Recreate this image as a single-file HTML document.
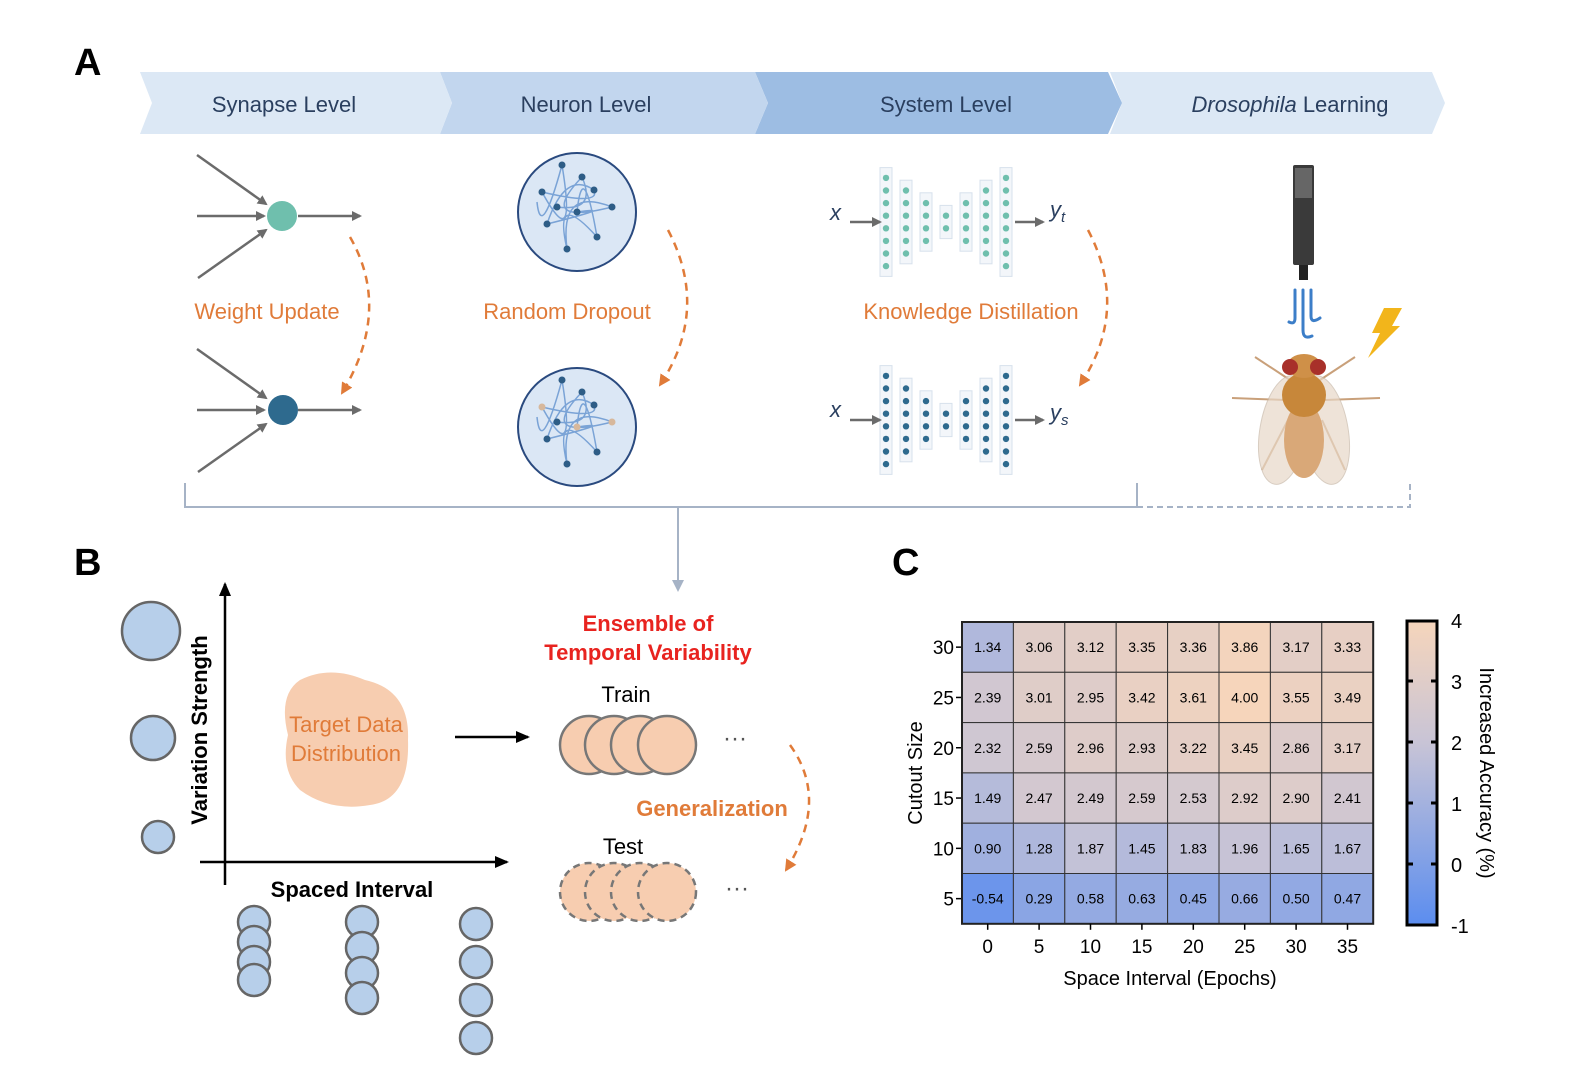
<!DOCTYPE html>
<html><head><meta charset="utf-8"><style>
html,body{margin:0;padding:0;background:#fff}
svg{display:block}
text{font-family:"Liberation Sans",Arial,sans-serif}
</style></head><body>
<svg id="s" width="1574" height="1090" viewBox="0 0 1574 1090" xmlns="http://www.w3.org/2000/svg">
<defs>
<marker id="ag" markerWidth="10" markerHeight="10" refX="8" refY="5" orient="auto" markerUnits="userSpaceOnUse"><path d="M0,0 L10,5 L0,10 Z" fill="#6b6b6b"/></marker>
<marker id="ak" markerWidth="14" markerHeight="12" refX="12" refY="6" orient="auto" markerUnits="userSpaceOnUse"><path d="M0,0 L14,6 L0,12 Z" fill="#000"/></marker>
<marker id="ao" markerWidth="14" markerHeight="12" refX="10" refY="6" orient="auto" markerUnits="userSpaceOnUse"><path d="M0,0 L12,6 L0,12 Z" fill="#e07b39"/></marker>
<marker id="ab" markerWidth="14" markerHeight="12" refX="10" refY="6" orient="auto" markerUnits="userSpaceOnUse"><path d="M0,0 L12,6 L0,12 Z" fill="#a6b3c6"/></marker>
<linearGradient id="cb" x1="0" y1="1" x2="0" y2="0">
<stop offset="0" stop-color="#5b8def"/><stop offset="0.6" stop-color="#c8c4d6"/><stop offset="1" stop-color="#f6d5bb"/></linearGradient>
</defs>
<text x="74" y="75" font-size="38" font-weight="bold">A</text>
<!-- banner -->
<polygon points="1110,72 1432,72 1445,103 1432,134 1110,134 1122,103" fill="#dce8f5"/>
<polygon points="755,72 1108,72 1122,103 1108,134 755,134 768,103" fill="#9dbde3"/>
<polygon points="440,72 755,72 768,103 755,134 440,134 452,103" fill="#c2d6ee"/>
<polygon points="140,72 440,72 452,103 440,134 140,134 152,103" fill="#dce8f5"/>
<g font-size="22" fill="#2a3f5f" text-anchor="middle">
<text x="284" y="112">Synapse Level</text>
<text x="586" y="112">Neuron Level</text>
<text x="946" y="112">System Level</text>
<text x="1290" y="112"><tspan font-style="italic">Drosophila</tspan> Learning</text>
</g>
<!-- synapse -->
<g stroke="#6b6b6b" stroke-width="2.5" fill="none" marker-end="url(#ag)">
<line x1="197" y1="155" x2="266" y2="204"/><line x1="197" y1="216" x2="264" y2="216"/><line x1="198" y1="278" x2="266" y2="230"/><line x1="298" y1="216" x2="360" y2="216"/>
<line x1="197" y1="349" x2="266" y2="398"/><line x1="197" y1="410" x2="264" y2="410"/><line x1="198" y1="472" x2="266" y2="424"/><line x1="298" y1="410" x2="360" y2="410"/>
</g>
<circle cx="282" cy="216" r="15" fill="#6fbfad"/>
<circle cx="283" cy="410" r="15" fill="#2e6a8e"/>
<g stroke="#e07b39" stroke-width="2.5" fill="none" stroke-dasharray="8,6" marker-end="url(#ao)">
<path d="M350,237 Q392,310 342,393"/>
<path d="M668,230 Q710,310 660,385"/>
<path d="M1088,230 Q1130,310 1080,385"/>
<path d="M790,745 Q830,800 786,870"/>
</g>
<g font-size="22" fill="#e07b39" text-anchor="middle">
<text x="267" y="319">Weight Update</text>
<text x="567" y="319">Random Dropout</text>
<text x="971" y="319">Knowledge Distillation</text>
</g>
<!-- neuron circles -->
<g id="neur"></g>
<!-- networks -->
<g id="nets"></g>
<g font-family="Liberation Serif" font-style="italic" font-size="22" fill="#2a3f5f">
<text x="830" y="220">x</text><text x="830" y="417">x</text>
<text x="1050" y="217">y<tspan font-size="15" dy="5">t</tspan></text>
<text x="1050" y="420">y<tspan font-size="15" dy="5">s</tspan></text>
</g>
<g stroke="#6b6b6b" stroke-width="2.5" marker-end="url(#ag)">
<line x1="850" y1="222" x2="880" y2="222"/><line x1="1015" y1="222" x2="1043" y2="222"/>
<line x1="850" y1="420" x2="880" y2="420"/><line x1="1015" y1="420" x2="1043" y2="420"/>
</g>
<!-- fly -->
<rect x="1293" y="165" width="21" height="100" rx="2" fill="#3a3a3a"/>
<rect x="1295" y="168" width="17" height="30" fill="#666"/>
<rect x="1299" y="265" width="9" height="15" fill="#222"/>
<g stroke="#3c7ec8" stroke-width="3" fill="none" stroke-linecap="round">
<path d="M1295,290 V318 Q1295,325 1289,322"/><path d="M1303,290 V330 Q1303,340 1312,336"/><path d="M1311,290 V316 Q1311,324 1320,318"/>
</g>
<polygon points="1392,308 1402,308 1392,326 1400,326 1368,358 1380,333 1372,333 1384,308" fill="#f2b51b"/>
<g stroke="#c9a07a" stroke-width="2" fill="none">
<path d="M1290,380 L1255,357"/><path d="M1320,380 L1355,357"/><path d="M1285,400 L1232,398"/><path d="M1325,400 L1380,398"/>
<path d="M1288,420 L1262,470"/><path d="M1322,420 L1345,470"/>
</g>
<ellipse cx="1284" cy="430" rx="24" ry="55" fill="#e8d8c8" opacity="0.7" stroke="#c8b8a8" transform="rotate(10 1284 430)"/>
<ellipse cx="1324" cy="430" rx="24" ry="55" fill="#e8d8c8" opacity="0.7" stroke="#c8b8a8" transform="rotate(-10 1324 430)"/>
<ellipse cx="1304" cy="440" rx="20" ry="38" fill="#d9a878"/>
<ellipse cx="1304" cy="395" rx="22" ry="22" fill="#c7873a"/>
<ellipse cx="1304" cy="366" rx="17" ry="12" fill="#cf9048"/>
<circle cx="1290" cy="367" r="8" fill="#a8302a"/><circle cx="1318" cy="367" r="8" fill="#a8302a"/>
<!-- bracket -->
<path d="M185,483 V507 H1137 V483" stroke="#a6b3c6" stroke-width="2" fill="none"/>
<path d="M1137,507 H1410 V483" stroke="#a6b3c6" stroke-width="2" fill="none" stroke-dasharray="6,4"/>
<line x1="678" y1="507" x2="678" y2="590" stroke="#a6b3c6" stroke-width="2" marker-end="url(#ab)"/>
<!-- B -->
<text x="74" y="575" font-size="38" font-weight="bold">B</text>
<g stroke="#000" stroke-width="2.5" marker-end="url(#ak)">
<line x1="225" y1="885" x2="225" y2="584"/><line x1="200" y1="862" x2="507" y2="862"/>
<line x1="455" y1="737" x2="528" y2="737"/>
</g>
<text transform="translate(207,730) rotate(-90)" font-size="22" font-weight="bold" text-anchor="middle">Variation Strength</text>
<text x="352" y="897" font-size="22" font-weight="bold" text-anchor="middle">Spaced Interval</text>
<g fill="#b7cfea" stroke="#666" stroke-width="2.5">
<circle cx="151" cy="631" r="29"/><circle cx="153" cy="738" r="22"/><circle cx="158" cy="837" r="16"/>
<circle cx="254" cy="922" r="16"/><circle cx="254" cy="942" r="16"/><circle cx="254" cy="962" r="16"/><circle cx="254" cy="980" r="16"/>
<circle cx="362" cy="922" r="16"/><circle cx="362" cy="948" r="16"/><circle cx="362" cy="973" r="16"/><circle cx="362" cy="998" r="16"/>
<circle cx="476" cy="924" r="16"/><circle cx="476" cy="962" r="16"/><circle cx="476" cy="1000" r="16"/><circle cx="476" cy="1038" r="16"/>
</g>
<path d="M300,680 Q330,665 365,680 Q410,690 408,740 Q410,800 370,805 Q330,812 300,790 Q280,770 288,735 Q278,695 300,680 Z" fill="#f7cdb0"/>
<g font-size="22" fill="#e07b39" text-anchor="middle"><text x="346" y="732">Target Data</text><text x="346" y="761">Distribution</text></g>
<g font-size="22" fill="#e8231f" font-weight="bold" text-anchor="middle"><text x="648" y="631">Ensemble of</text><text x="648" y="660">Temporal Variability</text></g>
<text x="626" y="702" font-size="22" text-anchor="middle">Train</text>
<text x="623" y="854" font-size="22" text-anchor="middle">Test</text>
<g fill="#f7cdb0" stroke="#777" stroke-width="2.5">
<circle cx="589" cy="745" r="29"/><circle cx="614" cy="745" r="29"/><circle cx="640" cy="745" r="29"/><circle cx="667" cy="745" r="29"/>
</g>
<g fill="#f7cdb0" stroke="#777" stroke-width="2.5" stroke-dasharray="7,5">
<circle cx="589" cy="892" r="29"/><circle cx="614" cy="892" r="29"/><circle cx="640" cy="892" r="29"/><circle cx="667" cy="892" r="29"/>
</g>
<g font-size="24" fill="#555" text-anchor="middle"><text x="735" y="746">···</text><text x="737" y="896">···</text></g>
<text x="712" y="816" font-size="22" fill="#e07b39" font-weight="bold" text-anchor="middle">Generalization</text>
<!-- C -->
<text x="892" y="575" font-size="38" font-weight="bold">C</text>
<g id="hm"></g>
<rect x="1407" y="621" width="30" height="304" fill="url(#cb)" stroke="#000" stroke-width="3"/>
<g stroke="#000" stroke-width="3">
<line x1="1407" y1="681" x2="1413" y2="681"/><line x1="1431" y1="681" x2="1437" y2="681"/>
<line x1="1407" y1="742" x2="1413" y2="742"/><line x1="1431" y1="742" x2="1437" y2="742"/>
<line x1="1407" y1="803" x2="1413" y2="803"/><line x1="1431" y1="803" x2="1437" y2="803"/>
<line x1="1407" y1="864" x2="1413" y2="864"/><line x1="1431" y1="864" x2="1437" y2="864"/>
</g>
<g font-size="20"><text x="1451" y="628">4</text><text x="1451" y="689">3</text><text x="1451" y="750">2</text><text x="1451" y="811">1</text><text x="1451" y="872">0</text><text x="1451" y="933">-1</text></g>
<text transform="translate(1480,773) rotate(90)" font-size="20" text-anchor="middle">Increased Accuracy (%)</text>
<text transform="translate(922,773) rotate(-90)" font-size="20" text-anchor="middle">Cutout Size</text>
<text x="1170" y="985" font-size="20" text-anchor="middle">Space Interval (Epochs)</text>
</svg>
<script>
var NS="http://www.w3.org/2000/svg",s=document.getElementById('s');
function el(p,t,a){var e=document.createElementNS(NS,t);for(var k in a)e.setAttribute(k,a[k]);p.appendChild(e);return e;}
// neuron circles
var ng=document.getElementById('neur');
[[577,212],[577,427]].forEach(function(c,i){
 el(ng,'circle',{cx:c[0],cy:c[1],r:59,fill:'#dbe7f5',stroke:'#2a4a7f','stroke-width':2});
 var pts=[[-15,-47],[-35,-20],[17,-22],[-30,12],[0,0],[20,25],[-10,37],[35,-5],[5,-35],[-20,-5]];
 var d='M'+(c[0]-40)+','+(c[1]-10);
 for(var j=0;j<pts.length;j++){d+=' Q'+(c[0]+pts[(j+3)%10][0]*1.2)+','+(c[1]+pts[(j+5)%10][1]*1.2)+' '+(c[0]+pts[j][0])+','+(c[1]+pts[j][1]);}
 el(ng,'path',{d:d,fill:'none',stroke:'#7aa3d6','stroke-width':1.5});
 pts.forEach(function(p,k){el(ng,'circle',{cx:c[0]+p[0],cy:c[1]+p[1],r:3.5,fill:(i==1&&k%3==1)?'#d7b89c':'#2e5d86'});});
});
// networks
var nt=document.getElementById('nets');
var cols=[[886,8],[906,6],[926,4],[946,2],[966,4],[986,6],[1006,8]];
[[222,'#6fbfad'],[420,'#2e6a8e']].forEach(function(n){
 cols.forEach(function(c){var h=c[1]*12.6;
  el(nt,'rect',{x:c[0]-6,y:n[0]-h/2-4,width:12,height:h+8,fill:'#f3f6fa',stroke:'#d7e1ec'});
  for(var i=0;i<c[1];i++){el(nt,'circle',{cx:c[0],cy:n[0]-h/2+6.3+i*12.6,r:3.2,fill:n[1]});}
 });
});
// heatmap
var V=[[1.34,3.06,3.12,3.35,3.36,3.86,3.17,3.33],[2.39,3.01,2.95,3.42,3.61,4.00,3.55,3.49],[2.32,2.59,2.96,2.93,3.22,3.45,2.86,3.17],[1.49,2.47,2.49,2.59,2.53,2.92,2.90,2.41],[0.90,1.28,1.87,1.45,1.83,1.96,1.65,1.67],[-0.54,0.29,0.58,0.63,0.45,0.66,0.50,0.47]];
function col(v){var a=[91,141,239],b=[200,196,214],c=[246,213,187],t,p,q;
 if(v<2){t=(v+1)/3;p=a;q=b}else{t=(v-2)/2;p=b;q=c}
 return 'rgb('+p.map(function(x,i){return Math.round(x+(q[i]-x)*t)}).join(',')+')';}
var hm=document.getElementById('hm'),X0=962,Y0=622,W=51.4,H=50.3;
var yl=[30,25,20,15,10,5];
for(var r=0;r<6;r++){for(var c=0;c<8;c++){
 el(hm,'rect',{x:X0+c*W,y:Y0+r*H,width:W,height:H,fill:col(V[r][c]),stroke:'#333','stroke-width':1});
 var t=el(hm,'text',{x:X0+c*W+W/2,y:Y0+r*H+H/2+5,'font-size':14,'text-anchor':'middle'});t.textContent=V[r][c].toFixed(2);
 }
 el(hm,'line',{x1:X0-6,y1:Y0+r*H+H/2,x2:X0,y2:Y0+r*H+H/2,stroke:'#000','stroke-width':1.5});
 var l=el(hm,'text',{x:X0-8,y:Y0+r*H+H/2+7,'font-size':19,'text-anchor':'end'});l.textContent=yl[r];
}
el(hm,'rect',{x:X0,y:Y0,width:8*W,height:6*H,fill:'none',stroke:'#222','stroke-width':2});
for(var c=0;c<8;c++){var x=X0+c*W+W/2;el(hm,'line',{x1:x,y1:Y0+6*H,x2:x,y2:Y0+6*H+6,stroke:'#000','stroke-width':1.5});
 var l=el(hm,'text',{x:x,y:953,'font-size':19,'text-anchor':'middle'});l.textContent=c*5;}
</script>
</body></html>
